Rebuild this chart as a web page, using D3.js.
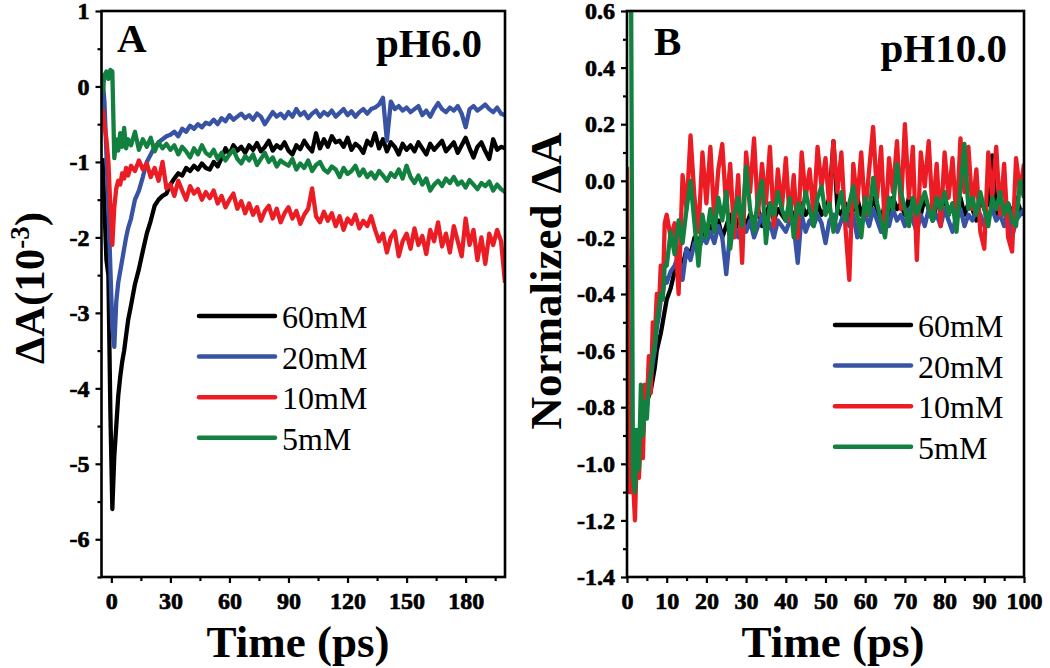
<!DOCTYPE html>
<html>
<head>
<meta charset="utf-8">
<script src="https://cdn.jsdelivr.net/npm/d3@7"></script>
<style>
body { margin: 0; background: #fff; }
svg { display: block; }
</style>
</head>
<body>
<div id="chart"></div>
<script>
var width = 1050;
var height = 668;
var serif = '"Liberation Serif", "Times New Roman", serif';

var seriesNames = ['60mM', '20mM', '10mM', '5mM'];
var seriesColors = ['#000000', '#3953a4', '#ec1c24', '#12803f'];

// ---- panel A : pH 6.0, delta A (10^-3) vs time (ps)
var timeA = [-4.5, -3.5, -2.5, -1.5, -0.5, 0.5, 1.5, 2.5, 3.5, 4.5, 5.5, 6.5, 7.5, 8.5,
  10, 12, 14, 16, 18, 20, 22, 24, 26, 28,
  30, 32, 34, 36, 38, 40, 42, 44, 46, 48,
  50, 52, 54, 56, 58, 60, 62, 64, 66, 68,
  70, 72, 74, 76, 78, 80, 82, 84, 86, 88,
  90, 92, 94, 96, 98, 100, 102, 104, 106, 108,
  110, 112, 114, 116, 118, 120, 122, 124, 126, 128,
  130, 132, 134, 136, 138, 140, 142, 144, 146, 148,
  150, 152, 154, 156, 158, 160, 162, 164, 166, 168,
  170, 172, 174, 176, 178, 180, 182, 184, 186, 188,
  190, 192, 194, 196, 198, 200];

var a60 = [-0.95, -1.6, -2.3, -2.5, -4.3, -5.6, -4.9, -4.5, -4.1, -3.85, -3.65, -3.5, -3.3, -3.1,
  -2.9, -2.62, -2.42, -2.18, -1.95, -1.78, -1.58, -1.5, -1.45, -1.42,
  -1.3, -1.22, -1.15, -1.18, -1.08, -1.12, -1.05, -1.1, -1.02, -1.08,
  -1.1, -1.0, -1.06, -0.95, -0.82, -0.9, -0.78, -0.85, -0.8, -0.88,
  -0.78, -0.84, -0.75, -0.86, -0.8, -0.72, -0.85, -0.78, -0.82, -0.74,
  -0.85, -0.9, -0.78, -0.83, -0.72, -0.8, -0.86, -0.62, -0.82, -0.7,
  -0.8, -0.66, -0.74, -0.72, -0.8, -0.68, -0.84, -0.76, -0.8, -0.88,
  -0.72, -0.78, -0.62, -0.82, -0.7, -0.86, -0.74, -0.8, -0.9, -0.76,
  -0.84, -0.78, -0.86, -0.74, -0.82, -0.9, -0.76, -0.84, -0.78, -0.72,
  -0.86, -0.8, -0.74, -0.88, -0.78, -0.68, -0.82, -0.94, -0.8, -0.74,
  -0.86, -0.96, -0.7, -0.84, -0.8, -0.82];

var a20 = [0.12, -0.2, -0.9, -1.6, -2.4, -3.2, -3.45, -2.85, -2.6, -2.45, -2.3, -2.15, -2.0, -1.88,
  -1.75, -1.5, -1.38, -1.2, -1.0, -0.9, -0.8, -0.74, -0.7, -0.66,
  -0.64, -0.6, -0.66, -0.56, -0.6, -0.52, -0.56, -0.5, -0.54, -0.48,
  -0.5, -0.44, -0.5, -0.42, -0.46, -0.38, -0.44, -0.4, -0.36, -0.42,
  -0.38, -0.44, -0.36, -0.4, -0.5, -0.42, -0.34, -0.4, -0.36, -0.42,
  -0.34, -0.4, -0.3, -0.38, -0.34, -0.42, -0.36, -0.32, -0.4, -0.34,
  -0.38, -0.32, -0.4, -0.35, -0.3, -0.38, -0.33, -0.4, -0.34, -0.3,
  -0.36, -0.3, -0.28, -0.24, -0.15, -0.72, -0.2, -0.3, -0.26, -0.32,
  -0.28, -0.34, -0.3, -0.26, -0.38, -0.32, -0.4, -0.3, -0.22, -0.3,
  -0.34, -0.28, -0.32, -0.26, -0.36, -0.54, -0.3, -0.26, -0.32, -0.28,
  -0.24, -0.3, -0.34, -0.28, -0.36, -0.38];

var a10 = [-0.3, -0.5, -0.7, -1.0, -1.6, -2.1, -1.6, -1.35, -1.25, -1.3, -1.15, -1.22, -1.08, -1.18,
  -1.05, -1.12, -0.98, -1.1, -1.02, -1.2, -1.08, -1.25, -1.0, -1.35,
  -1.3, -1.45, -1.25, -1.38, -1.5, -1.32, -1.42, -1.36, -1.5, -1.4,
  -1.48, -1.38, -1.55, -1.45, -1.6, -1.5, -1.42, -1.62, -1.52, -1.68,
  -1.55, -1.7, -1.6, -1.78, -1.65, -1.58, -1.75, -1.62, -1.8, -1.68,
  -1.6, -1.75, -1.65, -1.82, -1.7, -1.62, -1.35, -1.72, -1.8, -1.66,
  -1.78, -1.68, -1.85, -1.72, -1.9, -1.75, -1.82, -1.7, -1.88, -1.78,
  -1.85, -1.72, -1.9, -2.05, -1.95, -2.2, -2.0, -1.92, -2.25, -2.05,
  -1.95, -2.15, -1.88, -2.1, -1.98, -2.22, -1.9, -2.05, -1.8, -2.12,
  -1.95, -2.2, -1.85, -2.05, -2.25, -1.75, -2.1, -1.9, -2.3, -2.0,
  -2.35, -1.95, -2.1, -1.9, -2.05, -2.6];

var a5 = [-0.1, 0.15, 0.2, 0.1, 0.22, 0.2, -0.95, -0.7, -0.85, -0.62, -0.8, -0.55, -0.82, -0.7,
  -0.78, -0.6, -0.84, -0.7, -0.8, -0.68, -0.86, -0.74, -0.82, -0.76,
  -0.84, -0.78, -0.9, -0.8, -0.86, -0.94, -0.82, -0.9, -0.78, -0.88,
  -0.92, -0.84, -0.96, -0.88, -0.98, -0.9, -0.84, -0.96, -1.02, -0.92,
  -0.98, -0.9, -1.04, -0.96, -0.88, -1.0, -0.94, -1.06, -0.98, -1.02,
  -1.05, -0.96, -1.1, -1.02, -1.08, -0.98, -1.12, -1.04, -1.0, -1.1,
  -1.14, -1.06, -1.1, -1.2, -1.08, -1.16, -1.12, -1.05, -1.18, -1.1,
  -1.2, -1.14, -1.22, -1.12, -1.18, -1.25, -1.15, -1.2, -1.1, -1.22,
  -1.05, -1.2, -1.28, -1.18, -1.3, -1.22, -1.38, -1.3, -1.25, -1.32,
  -1.22, -1.28, -1.2, -1.3, -1.26, -1.34, -1.24, -1.3, -1.36, -1.28,
  -1.32, -1.26, -1.38, -1.3, -1.36, -1.4];

var xTicksA = [0, 30, 60, 90, 120, 150, 180];
var xMinorA = [15, 45, 75, 105, 135, 165, 195];
var yTicksA = [1, 0, -1, -2, -3, -4, -5, -6];
var yMinorA = [0.5, -0.5, -1.5, -2.5, -3.5, -4.5, -5.5, -6.5];

// ---- panel B : pH 10.0, normalized delta A vs time (ps)
var timeB = [0, 0.5, 1, 1.5, 2, 2.5, 3, 3.5, 4, 4.5, 5, 5.5, 6, 6.5, 7, 7.5, 8, 8.5, 9, 9.5,
  10, 11, 12, 13, 14, 15, 16, 17, 18, 19,
  20, 21, 22, 23, 24, 25, 26, 27, 28, 29,
  30, 31, 32, 33, 34, 35, 36, 37, 38, 39,
  40, 41, 42, 43, 44, 45, 46, 47, 48, 49,
  50, 51, 52, 53, 54, 55, 56, 57, 58, 59,
  60, 61, 62, 63, 64, 65, 66, 67, 68, 69,
  70, 71, 72, 73, 74, 75, 76, 77, 78, 79,
  80, 81, 82, 83, 84, 85, 86, 87, 88, 89,
  90, 91, 92, 93, 94, 95, 96, 97, 98, 99,
  100];

var b60 = [-0.3, -0.8, -1.05, -1.08, -0.92, -0.98, -0.9, -0.86, -0.88, -0.8, -0.78, -0.76, -0.74, -0.7, -0.66, -0.6, -0.57, -0.54, -0.5, -0.46,
  -0.42, -0.38, -0.32, -0.28, -0.3, -0.24, -0.26, -0.2, -0.22, -0.18,
  -0.2, -0.16, -0.18, -0.14, -0.2, -0.16, -0.12, -0.18, -0.14, -0.12,
  -0.16, -0.12, -0.14, -0.1, -0.16, -0.12, -0.08, -0.14, -0.1, -0.12,
  -0.14, -0.1, -0.12, -0.16, -0.08, -0.12, -0.1, -0.14, -0.08, -0.12,
  -0.1, -0.06, 0.14, -0.1, -0.12, -0.08, -0.14, -0.1, -0.06, -0.12,
  -0.08, -0.12, -0.06, -0.1, -0.14, -0.08, -0.12, -0.06, -0.1, -0.08,
  -0.12, -0.06, -0.1, -0.08, -0.12, -0.06, -0.1, -0.14, -0.08, -0.1,
  -0.06, -0.12, -0.08, -0.1, -0.06, -0.12, -0.08, -0.1, -0.14, -0.06,
  -0.1, -0.08, 0.09, -0.12, -0.06, -0.1, -0.08, -0.12, -0.06, -0.1,
  -0.12];

var b20 = [-0.2, -0.6, -0.92, -1.05, -0.88, -1.0, -0.92, -0.85, -0.9, -0.78, -0.8, -0.72, -0.7, -0.64, -0.6, -0.52, -0.48, -0.42, -0.4, -0.34,
  -0.36, -0.32, -0.3, -0.26, -0.35, -0.24, -0.28, -0.22, -0.25, -0.2,
  -0.22, -0.18, -0.22, -0.16, -0.2, -0.33, -0.18, -0.16, -0.2, -0.14,
  -0.18, -0.14, -0.2, -0.16, -0.12, -0.18, -0.15, -0.2, -0.14, -0.16,
  -0.18, -0.14, -0.16, -0.29, -0.12, -0.18, -0.14, -0.16, -0.12, -0.15,
  -0.22, -0.14, -0.12, -0.18, -0.14, -0.1, -0.16, -0.12, -0.2, -0.14,
  -0.12, -0.16, -0.1, -0.14, -0.18, -0.12, -0.16, -0.1, -0.14, -0.12,
  -0.16, -0.1, -0.14, -0.18, -0.12, -0.16, -0.1, -0.14, -0.12, -0.16,
  -0.1, -0.14, -0.18, -0.12, -0.1, -0.16, -0.12, -0.14, -0.1, -0.12,
  -0.16, -0.12, -0.1, -0.14, -0.12, -0.16, -0.1, -0.2, -0.14, -0.12,
  -0.1];

var b10 = [0.05, -1.1, -1.1, -1.05, -1.2, -0.95, -1.05, -0.9, -0.98, -0.72, -0.8, -0.62, -0.75, -0.5, -0.56, -0.4, -0.46, -0.3, -0.4, -0.15,
  -0.12, -0.2, -0.15, -0.4, 0.02, -0.1, 0.16, -0.06, -0.18, 0.1,
  -0.08, 0.12, -0.14, 0.04, 0.13, -0.1, 0.06, -0.2, 0.02, -0.29,
  0.1, -0.04, 0.15, -0.12, 0.06, -0.08, 0.12, -0.16, 0.04, -0.1,
  0.08, -0.14, 0.02, -0.2, 0.1, -0.06, 0.04, -0.12, 0.12, -0.02,
  0.08, -0.1, 0.14, -0.04, 0.1, -0.16, -0.35, 0.06, -0.08, 0.1,
  -0.12, 0.04, 0.19, -0.06, 0.12, -0.18, 0.08, -0.04, 0.14, -0.1,
  0.2, -0.06, 0.12, -0.28, 0.1, -0.02, 0.14, -0.12, 0.06, -0.16,
  0.1, -0.06, 0.08, -0.14, 0.15, -0.04, 0.12, -0.1, 0.04, -0.18,
  -0.24, 0.1, -0.06, 0.12, -0.12, 0.06, -0.2, -0.25, 0.08, -0.04,
  0.06];

var b5 = [0.8, 0.8, 0.8, -1.05, -1.1, -0.88, -1.02, -0.72, -0.9, -0.78, -0.84, -0.72, -0.68, -0.62, -0.58, -0.5, -0.45, -0.4, -0.42, -0.3,
  -0.3, -0.18, -0.26, -0.14, -0.22, -0.1, 0.0, -0.15, -0.3, -0.12,
  -0.2, -0.1, -0.18, -0.06, -0.14, -0.04, -0.24, -0.12, -0.06, -0.16,
  0.05, -0.1, -0.18, -0.06, 0.0, -0.22, -0.08, -0.12, -0.04, -0.1,
  -0.14, -0.06, -0.2, -0.08, -0.12, -0.04, -0.1, -0.16, -0.06, -0.02,
  -0.12, -0.08, -0.18, -0.1, -0.04, -0.14, -0.08, -0.02, -0.12, -0.2,
  -0.06, -0.12, 0.01, -0.08, -0.14, -0.2, -0.06, -0.1, 0.06, -0.04,
  -0.1, -0.16, -0.06, -0.12, -0.08, -0.04, -0.1, -0.14, -0.06, -0.1,
  -0.04, -0.12, -0.08, -0.18, -0.02, 0.13, -0.1, -0.06, -0.12, -0.04,
  -0.1, -0.16, -0.06, -0.1, -0.04, -0.12, -0.08, -0.14, -0.16, 0.0,
  -0.06];

var xTicksB = [0, 10, 20, 30, 40, 50, 60, 70, 80, 90, 100];
var xMinorB = [5, 15, 25, 35, 45, 55, 65, 75, 85, 95];
var yTicksB = [0.6, 0.4, 0.2, 0.0, -0.2, -0.4, -0.6, -0.8, -1.0, -1.2, -1.4];
var yMinorB = [0.5, 0.3, 0.1, -0.1, -0.3, -0.5, -0.7, -0.9, -1.1, -1.3];

var svg = d3.select('#chart').append('svg')
      .attr('width', width)
      .attr('height', height)
      .style('font-family', serif);

// plain hyphen for negatives, like the original figure
var fmtInt = d => String(d);
var fmtOne = d => d3.format('.1f')(d).replace('\u2212', '-');

var panels = [
  { id: 'clipA', time: timeA, series: [a60, a20, a10, a5],
    xDomain: [-5, 200], yDomain: [-6.5, 1],
    left: 101.5, right: 505, top: 11, bottom: 577,
    xTicks: xTicksA, xMinor: xMinorA, yTicks: yTicksA, yMinor: yMinorA,
    xFmt: fmtInt, yFmt: fmtInt,
    letter: 'A', letterX: 117, letterY: 52,
    ph: 'pH6.0', phX: 482, phY: 57,
    xTitleX: 298, legendX: 199, legendY: 316 },
  { id: 'clipB', time: timeB, series: [b60, b20, b10, b5],
    xDomain: [0, 100], yDomain: [-1.4, 0.6],
    left: 627, right: 1024, top: 11, bottom: 577,
    xTicks: xTicksB, xMinor: xMinorB, yTicks: yTicksB, yMinor: yMinorB,
    xFmt: fmtInt, yFmt: fmtOne,
    letter: 'B', letterX: 654, letterY: 55,
    ph: 'pH10.0', phX: 1007, phY: 62,
    xTitleX: 833, legendX: 835, legendY: 325 }
];

panels.forEach(drawPanel);

// y axis titles
svg.append('text')
      .attr('transform', 'translate(44, 288) rotate(-90)')
      .style('text-anchor', 'middle')
      .style('font-size', '43px')
      .style('font-weight', 'bold')
      .html('\u0394A(10<tspan dy="-15" font-size="27px">-3</tspan><tspan dy="15">)</tspan>');

svg.append('text')
      .attr('transform', 'translate(561, 281) rotate(-90)')
      .style('text-anchor', 'middle')
      .style('font-size', '45px')
      .style('font-weight', 'bold')
      .text('Normalized \u0394A');

function drawPanel(p) {
      var x = d3.scaleLinear().domain(p.xDomain).range([p.left, p.right]);
      var y = d3.scaleLinear().domain(p.yDomain).range([p.bottom, p.top]);

      svg.append('clipPath').attr('id', p.id)
            .append('rect')
            .attr('x', p.left).attr('y', p.top)
            .attr('width', p.right - p.left).attr('height', p.bottom - p.top);

      // traces, black first so green ends on top
      var line = d3.line()
            .x((d, i) => x(p.time[i]))
            .y(d => y(d));
      var plot = svg.append('g').attr('clip-path', 'url(#' + p.id + ')');
      p.series.forEach(function(vals, k) {
            plot.append('path')
                  .attr('d', line(vals))
                  .style('fill', 'none')
                  .style('stroke', seriesColors[k])
                  .style('stroke-width', 4.3)
                  .style('stroke-linejoin', 'round');
      });

      // axes: major ticks with labels, minor ticks without, all outward
      var axes = [
            [d3.axisBottom(x).tickValues(p.xTicks).tickSize(6).tickPadding(9).tickFormat(p.xFmt), 'translate(0,' + p.bottom + ')'],
            [d3.axisBottom(x).tickValues(p.xMinor).tickSize(4).tickFormat(''), 'translate(0,' + p.bottom + ')'],
            [d3.axisLeft(y).tickValues(p.yTicks).tickSize(6).tickPadding(6).tickFormat(p.yFmt), 'translate(' + p.left + ',0)'],
            [d3.axisLeft(y).tickValues(p.yMinor).tickSize(4).tickFormat(''), 'translate(' + p.left + ',0)']
      ];
      axes.forEach(function(a, i) {
            var g = svg.append('g').attr('transform', a[1]).call(a[0]);
            g.select('.domain').remove();
            g.selectAll('line').attr('stroke', '#000').attr('stroke-width', 2.2);
            if (i % 2 == 1) {
                  g.selectAll('text').remove();
                  return;
            }
            g.selectAll('text')
                  .attr('fill', '#000')
                  .attr('stroke', '#000')
                  .attr('stroke-width', 0.7)
                  .style('font-family', serif)
                  .style('font-size', '24px')
                  .style('font-weight', 'bold');
      });

      // frame
      svg.append('rect')
            .attr('x', p.left).attr('y', p.top)
            .attr('width', p.right - p.left).attr('height', p.bottom - p.top)
            .style('fill', 'none')
            .style('stroke', '#000')
            .style('stroke-width', 2.6);

      // panel letter and pH label
      svg.append('text')
            .attr('x', p.letterX).attr('y', p.letterY)
            .style('font-size', '41px')
            .style('font-weight', 'bold')
            .text(p.letter);
      svg.append('text')
            .attr('x', p.phX).attr('y', p.phY)
            .style('text-anchor', 'end')
            .style('font-size', '41px')
            .style('font-weight', 'bold')
            .text(p.ph);

      // x title
      svg.append('text')
            .attr('x', p.xTitleX).attr('y', 657)
            .style('text-anchor', 'middle')
            .style('font-size', '45px')
            .style('font-weight', 'bold')
            .text('Time (ps)');

      // legend
      var key = svg.append('g').attr('transform', 'translate(' + p.legendX + ',' + p.legendY + ')');
      seriesNames.forEach(function(name, k) {
            key.append('line')
                  .attr('x1', 0).attr('x2', 76)
                  .attr('y1', k * 40.6).attr('y2', k * 40.6)
                  .style('stroke', seriesColors[k])
                  .style('stroke-width', 4.5)
                  .style('stroke-linecap', 'round');
            key.append('text')
                  .attr('x', 83).attr('y', k * 40.6 + 12)
                  .style('font-size', '32px')
                  .text(name);
      });
}
</script>
</body>
</html>
